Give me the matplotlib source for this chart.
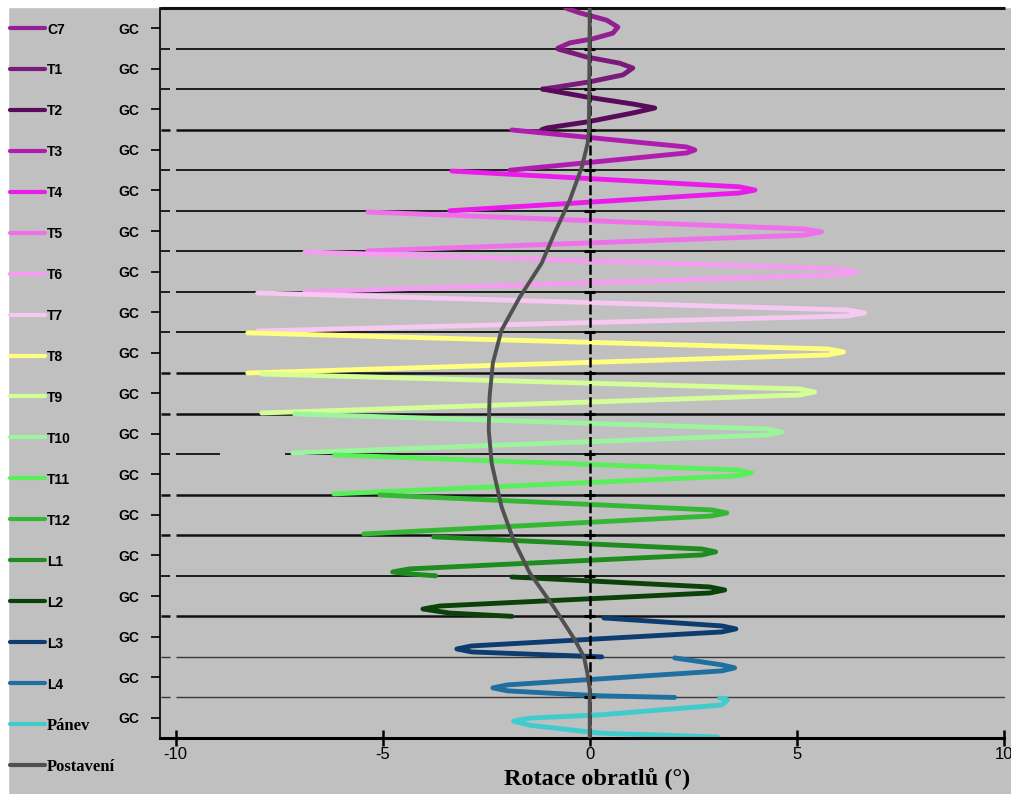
import matplotlib
matplotlib.use("Agg")
import matplotlib.pyplot as plt
from matplotlib.lines import Line2D
from matplotlib.patches import Rectangle

# ---------------- data ----------------
segments = ["C7", "T1", "T2", "T3", "T4", "T5", "T6", "T7", "T8", "T9",
            "T10", "T11", "T12", "L1", "L2", "L3", "L4", "Pánev"]
colors = ["#931f93", "#7a1a7a", "#5a0a5a", "#b01cb0", "#ea1cea", "#f070ec",
          "#f39cf0", "#f6c8f2", "#ffff80", "#d4ff96", "#9cf59c", "#5aef5a",
          "#34b834", "#1e8c1e", "#0a420a", "#0c3c70", "#1f6fa0", "#40cccc"]
posture_color = "#505050"

# gait cycle (%) and rotation (deg) for each segment
c7_gc = [0, 12, 30, 47, 62, 76, 86, 99]
c7_rot = [-0.58, -0.24, 0.41, 0.68, 0.56, 0.07, -0.48, -0.77]
t1_gc = [1, 21, 36, 48, 65, 82, 95, 100]
t1_rot = [-0.77, -0.07, 0.72, 1.04, 0.80, 0.00, -0.80, -1.14]
t2_gc = [0, 19.5, 36.7, 46.6, 58.9, 81, 95.8, 100]
t2_rot = [-1.14, -0.07, 1.04, 1.57, 1.04, -0.07, -1.04, -1.16]
t3_gc = [0.7, 42.7, 50, 57.4, 100]
t3_rot = [-1.88, 2.34, 2.54, 2.34, -1.93]
t4_gc = [2, 41, 49, 56, 100]
t4_rot = [-3.33, 3.62, 3.99, 3.62, -3.38]
t5_gc = [3, 45, 52, 60, 99]
t5_rot = [-5.36, 5.19, 5.60, 5.19, -5.36]
t6_gc = [1.5, 43, 51, 58, 100]
t6_rot = [-6.88, 6.04, 6.45, 6.04, -6.88]
t7_gc = [2.7, 44.6, 52, 59.4, 96.4]
t7_rot = [-8.02, 6.23, 6.64, 6.23, -8.02]
t8_gc = [1, 40.7, 48, 55.5, 100]
t8_rot = [-8.26, 5.75, 6.13, 5.75, -8.26]
t9_gc = [2.5, 39.4, 46.8, 54.2, 98.6]
t9_rot = [-7.92, 5.07, 5.43, 5.07, -7.92]
t10_gc = [1, 38, 45.4, 52.8, 97.1]
t10_rot = [-7.13, 4.28, 4.64, 4.28, -7.17]
t11_gc = [2, 39, 46.4, 53.7, 98.1]
t11_rot = [-6.16, 3.55, 3.91, 3.55, -6.18]
t12_gc = [0.7, 37.7, 45, 52.5, 96.9]
t12_rot = [-5.07, 2.95, 3.31, 2.95, -5.46]
l1_gc = [4, 34, 41, 48.6, 83, 90.5, 95.4, 100]
l1_rot = [-3.77, 2.71, 3.04, 2.71, -4.35, -4.76, -4.35, -3.72]
l2_gc = [3, 27.6, 35, 42.4, 74.5, 81.9, 92, 100]
l2_rot = [-1.88, 2.90, 3.26, 2.90, -3.62, -4.03, -3.38, -1.88]
l3_gc = [4, 23.7, 31, 38.5, 73, 80.4, 87.8, 100]
l3_rot = [0.34, 3.19, 3.53, 3.19, -2.85, -3.21, -2.85, 0.29]
l4_gc = [2.5, 19.7, 27, 34.5, 69, 76.4, 83.8, 96, 100]
l4_rot = [2.05, 3.19, 3.50, 3.19, -1.98, -2.34, -1.98, 0.24, 2.05]
panev_gc = [1, 6, 18.5, 43, 51, 58.5, 68.5, 88, 97.5]
panev_rot = [3.14, 3.33, 3.19, 0.24, -1.45, -1.84, -1.45, 0.24, 3.09]

# posture (Postavení): level along the spine (0 = top of C7 band) and rotation
posture_level = [0, 3.0, 3.33, 3.92, 4.73, 5.55, 6.29, 7.13, 7.94, 8.75, 9.59,
                 10.40, 11.22, 12.30, 13.12, 13.93, 14.77, 15.58, 16.0, 16.39,
                 16.8, 18]
posture_rot = [0, -0.02, -0.05, -0.19, -0.48, -0.85, -1.16, -1.69, -2.13, -2.34,
               -2.42, -2.44, -2.37, -2.13, -1.84, -1.45, -0.87, -0.36, -0.14,
               -0.06, 0, 0]

x_ticks = [-10, -5, 0, 5, 10]
x_label = "Rotace obratlů (°)"
y_tick_label = "GC"
posture_label = "Postavení"

series = [
    (c7_gc, c7_rot), (t1_gc, t1_rot), (t2_gc, t2_rot), (t3_gc, t3_rot),
    (t4_gc, t4_rot), (t5_gc, t5_rot), (t6_gc, t6_rot), (t7_gc, t7_rot),
    (t8_gc, t8_rot), (t9_gc, t9_rot), (t10_gc, t10_rot), (t11_gc, t11_rot),
    (t12_gc, t12_rot), (l1_gc, l1_rot), (l2_gc, l2_rot), (l3_gc, l3_rot),
    (l4_gc, l4_rot), (panev_gc, panev_rot),
]

# ---------------- figure ----------------
W, H = 1011, 794
BG = "#c0c0c0"
SANS = "Liberation Sans"
SERIF = "Liberation Serif"

fig = plt.figure(figsize=(W / 100, H / 100), dpi=100, facecolor=BG)
# white margins at top and left
fig.add_artist(Rectangle((0, 1 - 7 / H), 1, 7 / H, transform=fig.transFigure,
                         color="white", zorder=0))
fig.add_artist(Rectangle((0, 0), 8 / W, 1, transform=fig.transFigure,
                         color="white", zorder=0))

ax = fig.add_axes([160 / W, 1 - 738 / H, (1005 - 160) / W, (738 - 8) / H])
ax.set_facecolor(BG)
nb = len(segments)
ax.set_xlim(-10.38, 10.03)
ax.set_ylim(nb, 0)

# band separator lines
thick = {3, 9, 10, 12, 13, 15}
thin = {16, 17}
for b in range(1, nb):
    lw = 1.8 if b in thick else (1.0 if b in thin else 1.3)
    col = "#3a3a3a" if b in thin else "#111111"
    ax.hlines(b, -10.36, -10.14, color=col, lw=lw, zorder=1)
    if b == 11:
        ax.hlines(b, -10, -8.94, color=col, lw=lw, zorder=1)
        ax.hlines(b, -7.37, 10.03, color=col, lw=lw, zorder=1)
    else:
        ax.hlines(b, -10, 10.03, color=col, lw=lw, zorder=1)
ax.hlines(0, -10.38, 10.03, color="#111111", lw=2.2, zorder=1, clip_on=False)

# vertebra curves
for i, ((gc, rot), col) in enumerate(zip(series, colors)):
    ax.plot(rot, [i + g / 100 for g in gc], color=col, lw=3.5,
            solid_capstyle="round", solid_joinstyle="round", zorder=2)

# zero reference line with cross ticks
ax.axvline(0, color="black", lw=1.8, ls=(0, (4, 1.3)), zorder=3)
ax.hlines(list(range(1, nb)), -0.13, 0.13, color="black", lw=2.2, zorder=3)

# posture curve
ax.plot(posture_rot, posture_level, color=posture_color, lw=2.8,
        solid_capstyle="round", zorder=4)

# axes styling
for s in ("top", "right"):
    ax.spines[s].set_visible(False)
ax.spines["left"].set_linewidth(1.2)
ax.spines["bottom"].set_linewidth(2.2)
ax.spines["bottom"].set_bounds(-10.38, 10)

ax.set_xticks(x_ticks)
ax.set_xticklabels([str(v) for v in x_ticks], fontfamily=SANS, fontsize=12)
ax.tick_params(axis="x", direction="inout", length=11, width=1.8, pad=1.0,
               colors="black")
ax.set_yticks([i + 0.5 for i in range(nb)])
ax.set_yticklabels([y_tick_label] * nb, fontfamily=SANS, fontweight="bold",
                   fontsize=10)
ax.tick_params(axis="y", direction="out", length=6.5, width=1.2, pad=8.5)

fig.text(597 / W, (H - 785.5) / H, x_label, ha="center", va="baseline",
         fontfamily=SERIF, fontweight="bold", fontsize=17.5)

# legend (manual, left column)
labels = segments + [posture_label]
leg_colors = colors + [posture_color]
for i, (lab, col) in enumerate(zip(labels, leg_colors)):
    y = 1 - (28 + 40.94 * i) / H
    fig.add_artist(Line2D([10 / W, 45 / W], [y, y], transform=fig.transFigure,
                          color=col, lw=3.0, solid_capstyle="round"))
    serif = lab in ("Pánev", posture_label)
    fig.text(47 / W, y, lab, ha="left", va="center_baseline",
             fontfamily=SERIF if serif else SANS, fontweight="bold",
             fontsize=12 if serif else 10)

fig.savefig("out.png", dpi=100, facecolor=BG)
